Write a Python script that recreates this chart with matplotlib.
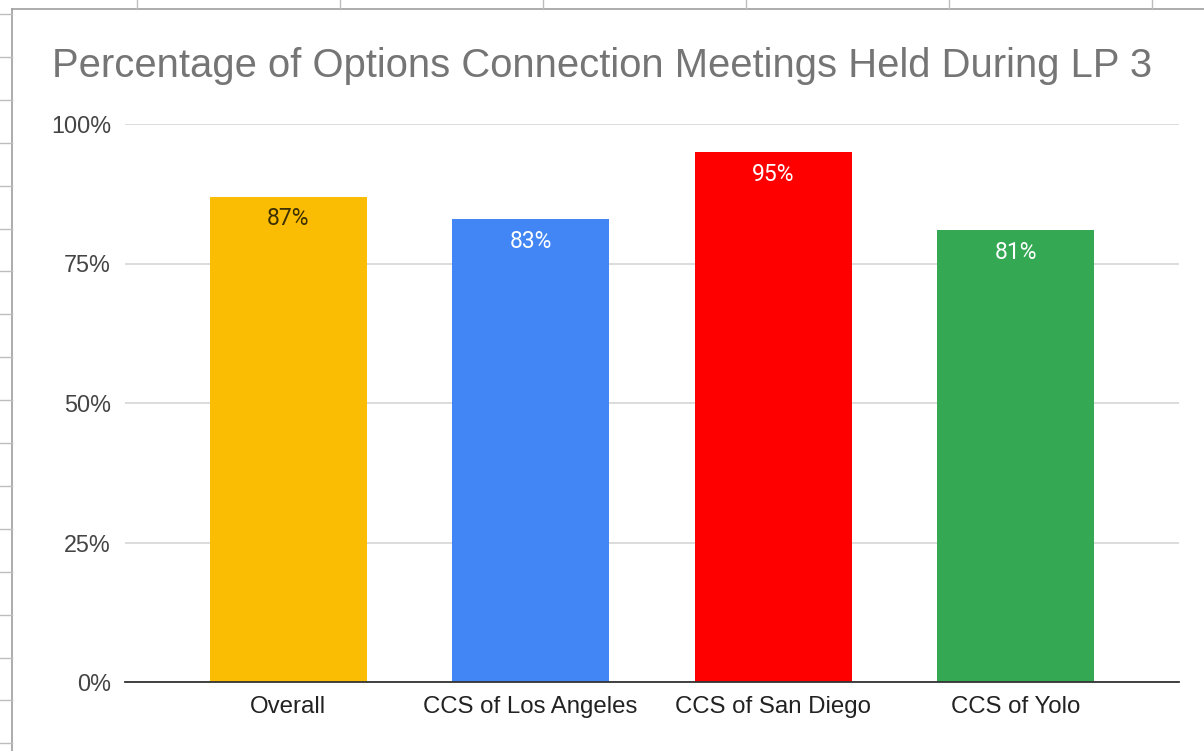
import matplotlib.pyplot as plt
from matplotlib.lines import Line2D
from matplotlib.ticker import FuncFormatter

plt.rcParams["font.family"] = ["Liberation Sans", "DejaVu Sans"]

categories = ["Overall", "CCS of Los Angeles", "CCS of San Diego", "CCS of Yolo"]
percentages = [87, 83, 95, 81]
bar_colors = ["#FBBC04", "#4285F4", "#FF0000", "#34A853"]
label_colors = ["#3c3000", "white", "white", "white"]
yticks = [0, 25, 50, 75, 100]

W, H = 1204, 751
fig = plt.figure(figsize=(W / 100, H / 100), dpi=100)

# fond de tableur: bordure grise + petites graduations de cellules
fig.add_artist(Line2D([12 / W, 12 / W], [0, 1 - 9 / H], color="#9e9e9e", lw=1.2))
fig.add_artist(Line2D([12 / W, 1], [1 - 9 / H, 1 - 9 / H], color="#9e9e9e", lw=1.2))
for i in range(18):
    y = 1 - (14 + 42.9 * i) / H
    fig.add_artist(Line2D([0, 12 / W], [y, y], color="#bdbdbd", lw=1))
for i in range(6):
    x = (137 + 203 * i) / W
    fig.add_artist(Line2D([x, x], [1, 1 - 9 / H], color="#bdbdbd", lw=1))

ax = fig.add_axes([125 / W, 69 / H, (1179 - 125) / W, (682 - 124) / H])
x = range(len(categories))
bars = ax.bar(x, percentages, width=0.647, color=bar_colors, zorder=2)

for bar, value, tc in zip(bars, percentages, label_colors):
    ax.annotate(f"{value}%", (bar.get_x() + bar.get_width() / 2, value),
                xytext=(0, -16), textcoords="offset points",
                ha="center", va="center", fontsize=16.5, color=tc, zorder=3,
                family=["Roboto", "DejaVu Sans"])

ax.set_xlim(-0.672, 3.672)
ax.set_ylim(0, 100)
ax.set_yticks(yticks)
ax.yaxis.set_major_formatter(FuncFormatter(lambda v, _: f"{v:.0f}%"))
ax.set_xticks(list(x))
ax.set_xticklabels(categories)
ax.tick_params(axis="y", length=0, pad=10, labelsize=16.8, labelcolor="#444444")
ax.tick_params(axis="x", length=0, pad=10, labelsize=17.3, labelcolor="#222222")
ax.grid(axis="y", color="#d9d9d9", lw=1.3, zorder=0)
for side in ("top", "right", "left"):
    ax.spines[side].set_visible(False)
ax.spines["bottom"].set_color("#333333")
ax.spines["bottom"].set_linewidth(1.3)
ax.spines["bottom"].set_zorder(3)

fig.text(52 / W, 1 - 66 / H, "Percentage of Options Connection Meetings Held During LP 3",
         ha="left", va="center", fontsize=28.8, color="#757575")

fig.savefig("out.png", dpi=100)
